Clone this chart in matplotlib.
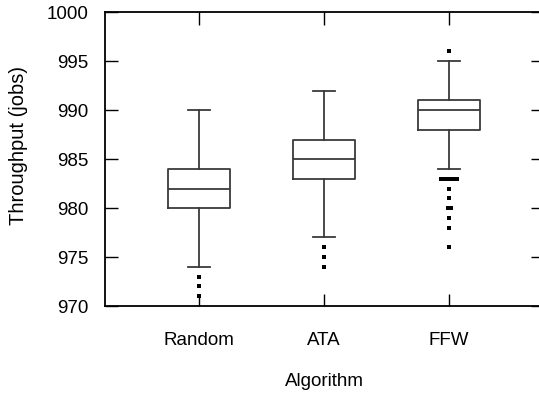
import matplotlib
matplotlib.use("Agg")
import matplotlib.pyplot as plt

plt.rcParams['font.family'] = ['Liberation Sans', 'DejaVu Sans']

algorithms = ["Random", "ATA", "FFW"]
whisker_low = [974, 977, 984]
q1 = [980, 983, 988]
median = [982, 985, 990]
q3 = [984, 987, 991]
whisker_high = [990, 992, 995]
# outlier values and how many runs hit each value
outlier_vals = [[973, 972, 971],
                [976, 975, 974],
                [996, 983, 982, 981, 980, 979, 978, 976]]
outlier_counts = [[1, 1, 1],
                  [1, 1, 1],
                  [1, 7, 1, 1, 2, 1, 1, 1]]

yticks = [970, 975, 980, 985, 990, 995, 1000]

fig = plt.figure(figsize=(5.39, 3.93), dpi=100)
ax = fig.add_axes([105/539, 1 - 306/393, 438/539, (306 - 12.3)/393])

stats = []
for i, name in enumerate(algorithms):
    stats.append(dict(label=name, whislo=whisker_low[i], q1=q1[i], med=median[i],
                      q3=q3[i], whishi=whisker_high[i], fliers=[]))

col = "#3a3a3a"
pos = [1, 2, 3]
ax.bxp(stats, positions=pos, widths=0.5, capwidths=0.18, showfliers=False,
       boxprops=dict(color=col, linewidth=1.3),
       whiskerprops=dict(color=col, linewidth=1.3),
       capprops=dict(color=col, linewidth=1.3),
       medianprops=dict(color=col, linewidth=1.3))

# spread coincident outliers sideways, gnuplot style
dx = 0.022
for i in range(len(algorithms)):
    xs, ys = [], []
    for v, n in zip(outlier_vals[i], outlier_counts[i]):
        for k in range(n):
            xs.append(pos[i] + (k - (n - 1) / 2) * dx)
            ys.append(v)
    ax.plot(xs, ys, linestyle="none", marker="s", markersize=2.2,
            color="black", markeredgewidth=0)

ax.set_xlim(0.25, 3.75)
ax.set_ylim(970, 1000)
ax.set_yticks(yticks)
ax.set_xticks(pos)
ax.set_xticklabels(algorithms)
ax.tick_params(direction="in", length=9, width=1, top=True, right=True,
               labelsize=13.5)
ax.tick_params(axis="y", pad=12)
ax.tick_params(axis="x", pad=19)
for s in ax.spines.values():
    s.set_linewidth(1.3)

ax.set_xlabel("Algorithm", fontsize=13.5, labelpad=17)
ax.set_ylabel("Throughput (jobs)", fontsize=14.5)
ax.yaxis.set_label_coords(-0.175, 0.548)

fig.savefig("out.png", dpi=100)
